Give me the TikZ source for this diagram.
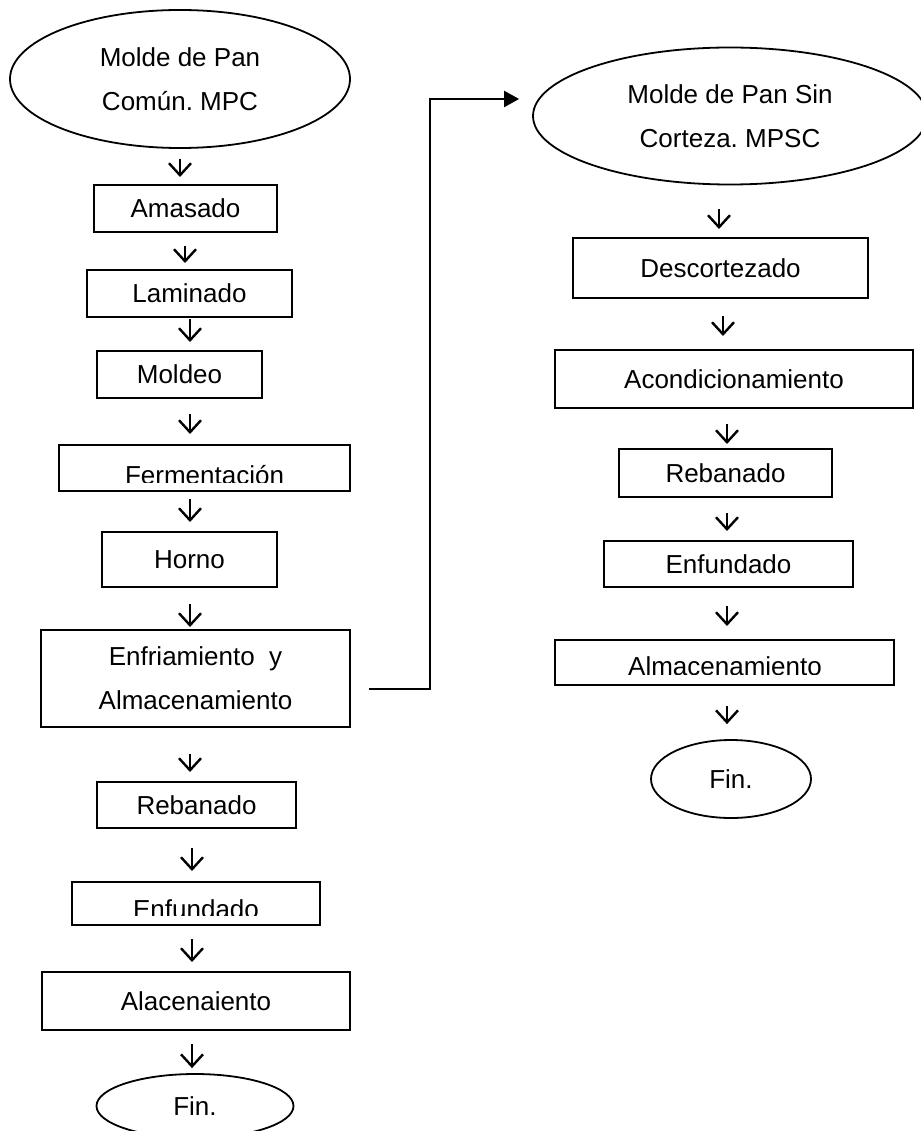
\documentclass[tikz,border=0pt]{standalone}
\usepackage{fontspec}
\setmainfont{Liberation Sans}
\usetikzlibrary{shapes.geometric,arrows.meta}
\frenchspacing
\tikzset{
  box/.style={draw, line width=2pt, rectangle, inner sep=0pt},
  oval/.style={draw, line width=1.8pt, ellipse, inner sep=0pt, align=center},
  lbl/.style={inner sep=0pt, align=center},
  dn/.style={line width=2.4pt, -{Straight Barb[length=12pt,width=22pt,line width=2.4pt]}},
  conn/.style={line width=2.4pt, -{Triangle[length=15pt,width=16pt]}},
}
\newcommand\flowarrow[5]{\path (#3,0) coordinate (fx); \draw[dn,shorten <=#4pt,shorten >=#5pt] (#1.south -| fx) -- (#2.north -| fx);}
\begin{document}
\begin{tikzpicture}[x=1pt,y=-1pt, font=\fontsize{26}{44}\selectfont]
\useasboundingbox (0,0) rectangle (920,1131);

% ---------- left column ----------
\node[oval, minimum width=340pt, minimum height=138pt] (e1) at (180,79) {Molde de Pan\\Común. MPC};
\node[box, minimum width=183pt, minimum height=47pt] (amasado) at (185.5,208.5) {Amasado};
\node[box, minimum width=205pt, minimum height=47pt] (laminado) at (189.5,293.5) {Laminado};
\node[box, minimum width=165pt, minimum height=47pt] (moldeo) at (179.5,374.5) {Moldeo};
\node[box, minimum width=291pt, minimum height=46pt] (ferm) at (204.5,468) {};
\begin{scope}
  \clip (0,440) rectangle (920,482);
  \node[lbl, anchor=base] (fermT) at (204.5,484) {Fermentación};
\end{scope}
\node[box, minimum width=175pt, minimum height=55pt] (horno) at (189.5,559.5) {Horno};
\node[box, align=center, minimum width=309pt, minimum height=97pt] (enf) at (195.5,678.5) {Enfriamiento\ \ y\\Almacenamiento};
\node[box, minimum width=199pt, minimum height=46pt] (rebL) at (196.5,805) {Rebanado};
\node[box, minimum width=248pt, minimum height=43pt] (enfL) at (196,903.5) {};
\begin{scope}
  \clip (0,880) rectangle (920,915);
  \node[lbl, anchor=base] (enfLT) at (196,918.6) {Enfundado};
\end{scope}
\node[box, minimum width=308pt, minimum height=58pt] (alac) at (196,1001) {Alacenaiento};
\node[oval, minimum width=197pt, minimum height=64pt] (finL) at (195,1106) {Fin.};

% ---------- right column ----------
\node[oval, minimum width=394pt, minimum height=137pt] (e2) at (730,116) {Molde de Pan Sin\\Corteza. MPSC};
\node[box, minimum width=295pt, minimum height=60pt] (desc) at (720.5,268) {Descortezado};
\node[box, minimum width=358pt, minimum height=58pt] (acond) at (734,379) {Acondicionamiento};
\node[box, minimum width=213pt, minimum height=48pt] (rebR) at (725.5,473) {Rebanado};
\node[box, minimum width=249pt, minimum height=46pt] (enfR) at (728.5,564) {Enfundado};
\node[box, minimum width=339pt, minimum height=45pt] (alm) at (724.5,662.5) {};
\begin{scope}
  \clip (0,638) rectangle (920,674);
  \node[lbl, anchor=base] (almT) at (725,675.6) {Almacenamiento};
\end{scope}
\node[oval, minimum width=160pt, minimum height=78pt] (finR) at (731,779) {Fin.};

% ---------- short arrows ----------
\flowarrow{e1}{amasado}{180}{10}{7}
\flowarrow{amasado}{laminado}{185}{13}{6}
\flowarrow{laminado}{moldeo}{190}{1}{8}
\flowarrow{moldeo}{ferm}{190}{15}{10}
\flowarrow{ferm}{horno}{190}{7}{9}
\flowarrow{horno}{enf}{190}{16}{2}
\flowarrow{enf}{rebL}{190}{26}{9}
\flowarrow{rebL}{enfL}{192}{19}{10}
\flowarrow{enfL}{alac}{192}{13}{9}
\flowarrow{alac}{finL}{192}{13}{5}

\flowarrow{e2}{desc}{719}{23.5}{8}
\flowarrow{desc}{acond}{723}{17}{13}
\flowarrow{acond}{rebR}{727}{15}{4}
\flowarrow{rebR}{enfR}{727}{15}{9}
\flowarrow{enfR}{alm}{727}{18}{13}
\flowarrow{alm}{finR}{727}{20}{15}

% ---------- connector between the two processes ----------
\coordinate (cs) at ([shift={(18,10.5)}]enf.east);
\coordinate (ct) at ([shift={(-13,-17)}]e2.west);
\coordinate (vx) at (430,0);
\draw[conn] (cs) -- (cs -| vx) |- (ct);
\end{tikzpicture}
\end{document}
